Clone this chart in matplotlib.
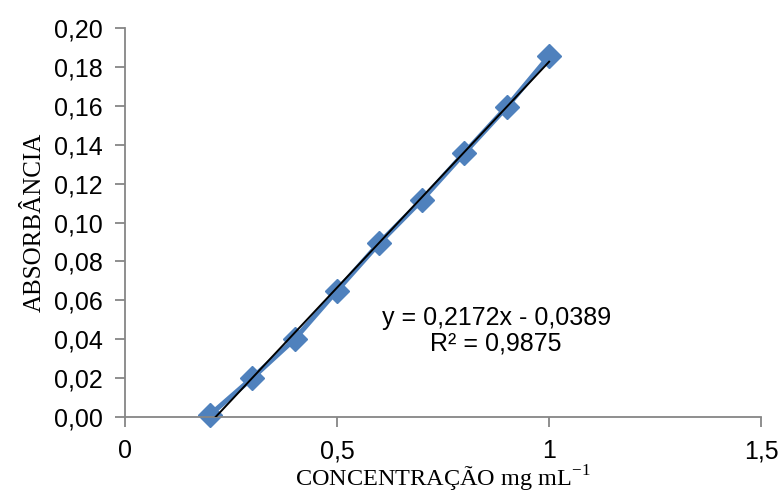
import numpy as np
import matplotlib
matplotlib.use("Agg")
import matplotlib.pyplot as plt

# Calibration data
concentracao = [0.2, 0.3, 0.4, 0.5, 0.6, 0.7, 0.8, 0.9, 1.0]
absorbancia = [0.001, 0.020, 0.040, 0.065, 0.0895, 0.1116, 0.1357, 0.1594, 0.1856]
equacao = "y = 0,2172x - 0,0389\nR² = 0,9875"
x_ticks = [0, 0.5, 1, 1.5]
x_tick_labels = ["0", "0,5", "1", "1,5"]
y_ticks = [0.00, 0.02, 0.04, 0.06, 0.08, 0.10, 0.12, 0.14, 0.16, 0.18, 0.20]

blue = "#4F81BD"
gray = "#868686"

plt.rcParams['font.family'] = ['Liberation Sans', 'DejaVu Sans']

fig = plt.figure(figsize=(7.8, 4.93), dpi=100)
ax = fig.add_axes([0.160, 0.154, 0.816, 0.789])

# Data series
ax.plot(concentracao, absorbancia, color=blue, linewidth=3.6, marker="D",
        markersize=12, markeredgecolor=blue, zorder=2, clip_on=False)

# Linear trendline (least squares over the data)
a, b = np.polyfit(concentracao, absorbancia, 1)
xt = np.array([min(concentracao), max(concentracao)])
ax.plot(xt, a * xt + b, color="black", linewidth=1.4, zorder=3)

ax.set_xlim(0, 1.5)
ax.set_ylim(0, 0.20)
ax.set_xticks(x_ticks)
ax.set_xticklabels(x_tick_labels)
ax.set_yticks(y_ticks)
ax.set_yticklabels([f"{v:.2f}".replace(".", ",") for v in y_ticks])

for side in ["top", "right"]:
    ax.spines[side].set_visible(False)
for side in ["left", "bottom"]:
    ax.spines[side].set_color(gray)
    ax.spines[side].set_linewidth(1.3)
ax.tick_params(axis="both", colors=gray, labelcolor="black", labelsize=18,
               length=7, width=1.3, direction="out")
ax.tick_params(axis="x", pad=9)
ax.tick_params(axis="y", pad=9)

ax.text(0.875, 0.0445, equacao, ha="center", va="center", fontsize=18,
        linespacing=1.05)

ax.set_ylabel("ABSORBÂNCIA", family=["Liberation Serif"], fontsize=18, labelpad=6)
ax.set_xlabel("CONCENTRAÇÃO mg mL$^{\\mathregular{-1}}$", family=["Liberation Serif"],
              fontsize=17.5, labelpad=0)

fig.savefig("out.png", dpi=100)
